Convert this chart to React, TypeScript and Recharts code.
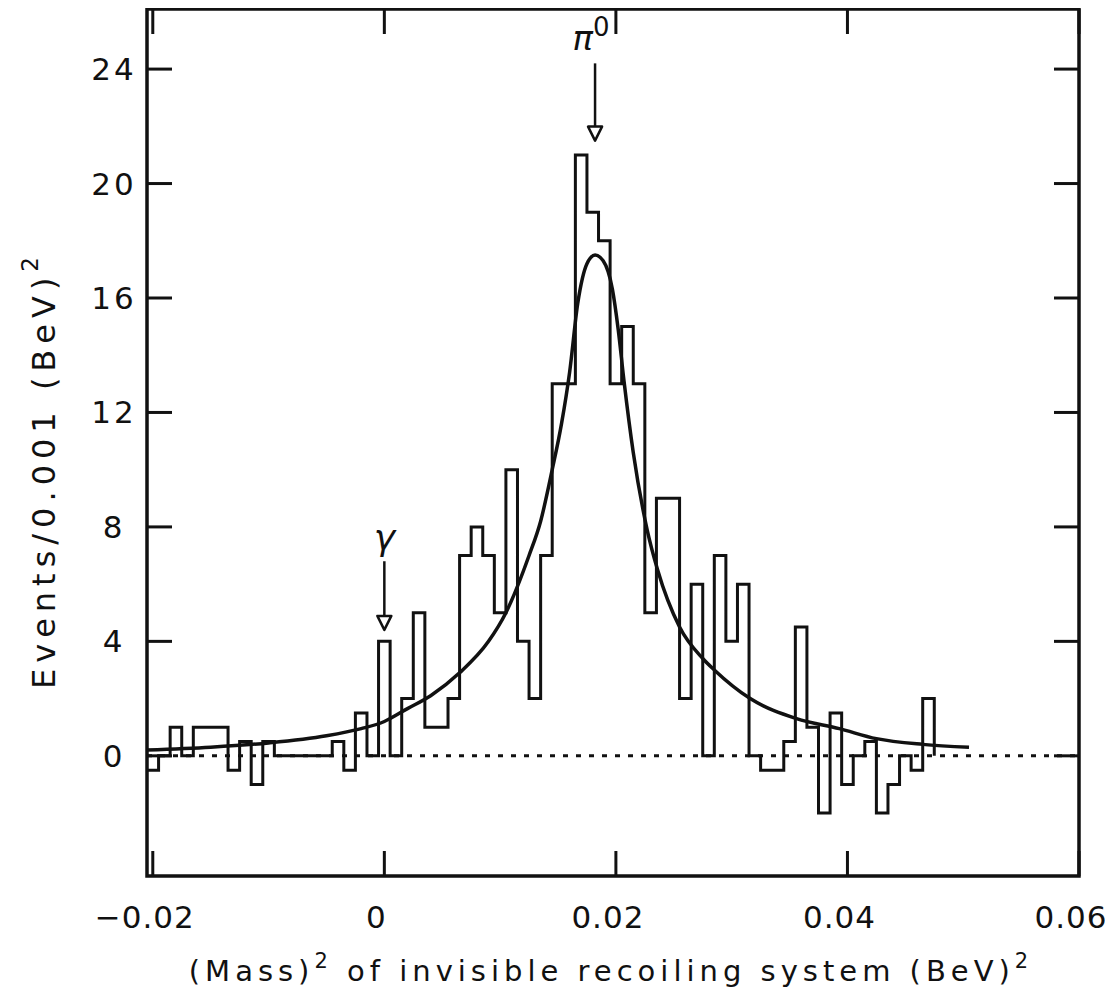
import React from "react";
import {
  LineChart,
  Line,
  XAxis,
  YAxis,
  ReferenceLine,
  ReferenceArea,
  ReferenceDot,
} from "recharts";

// histogram: events per 0.001 (BeV)^2, bins centred on multiples of 0.001
const BIN_FIRST = -0.02;
const BIN_WIDTH = 0.001;
const counts = [
  -0.5, 0, 1, 0, 1, 1, 1, -0.5, 0.5, -1, 0.5, 0, 0, 0, 0, 0, 0.5, -0.5, 1.5, 0,
  4, 0, 2, 5, 1, 1, 2, 7, 8, 7, 5, 10, 4, 2, 7, 13, 13, 21, 19, 18, 13, 15, 13,
  5, 9, 9, 2, 6, 0, 7, 4, 6, 0, -0.5, -0.5, 0.5, 4.5, 1, -2, 1.5, -1, 0, 0.5, -2,
  -1, 0, -0.5, 2,
];

// fitted curve
const fitX = [
  -0.0205, -0.015, -0.01, -0.005, -0.002, 0, 0.002, 0.004, 0.0065, 0.009, 0.0105,
  0.0125, 0.0135, 0.0145, 0.0153, 0.016, 0.0167, 0.0175, 0.0182, 0.0189, 0.0197,
  0.0202, 0.0207, 0.0215, 0.0227, 0.0236, 0.0255, 0.0275, 0.0285, 0.0316, 0.0356,
  0.0393, 0.0425, 0.0465, 0.0505,
];
const fitY = [
  0.2, 0.3, 0.45, 0.7, 0.95, 1.2, 1.65, 2.1, 2.9, 4.0, 5.0, 7.0, 8.2, 10.0, 11.6,
  13.4, 15.8, 17.2, 17.5, 17.3, 16.3, 14.9, 13.1, 10.6, 7.9, 6.5, 4.5, 3.4, 3.0,
  2.0, 1.3, 0.95, 0.6, 0.4, 0.3,
];

const xTicks = [-0.02, 0, 0.02, 0.04, 0.06];
const xTickLabels = ["\u22120.02", "0", "0.02", "0.04", "0.06"];
const yTicks = [0, 4, 8, 12, 16, 20, 24];

const X_DOMAIN: [number, number] = [-0.0205, 0.06];
const Y_DOMAIN: [number, number] = [-4.2, 26.1];

// markers
const gammaX = 0;
const gammaArrow = [6.8, 4.4];
const gammaLabelY = 7.6;
const pionX = 0.0182;
const pionArrow = [24.2, 21.5];
const pionLabelY = 25.1;

const W = 1105;
const H = 985;
const Y_AXIS_W = 139;
const X_AXIS_H = 117;
const MARGIN = { top: 1, right: 34, bottom: 0, left: 0 };
const PLOT_LEFT = MARGIN.left + Y_AXIS_W;
const PLOT_RIGHT = W - MARGIN.right;
const PLOT_TOP = MARGIN.top;
const PLOT_BOTTOM = H - X_AXIS_H - MARGIN.bottom;

const INK = "#111";
const FONT = "'DejaVu Sans', sans-serif";

const histData = counts
  .map((c, i) => ({ x: BIN_FIRST + (i - 0.5) * BIN_WIDTH, hist: c }))
  .concat([{ x: BIN_FIRST + (counts.length - 0.5) * BIN_WIDTH, hist: 0 }]);
const fitData = fitX.map((x, i) => ({ x, fit: fitY[i] }));

function YTick({ y, payload }: any) {
  return (
    <g>
      <line x1={PLOT_LEFT} x2={PLOT_LEFT + 25} y1={y} y2={y} stroke={INK} strokeWidth={3} />
      <line x1={PLOT_RIGHT - 25} x2={PLOT_RIGHT} y1={y} y2={y} stroke={INK} strokeWidth={3} />
      <text
        x={PLOT_LEFT - 33}
        y={y + 11}
        textAnchor="middle"
        fontFamily={FONT}
        fontSize={31}
        letterSpacing={3}
        fill={INK}
      >
        {payload.value}
      </text>
    </g>
  );
}

function XTick({ x, payload, index }: any) {
  return (
    <g>
      <line x1={x} x2={x} y1={PLOT_BOTTOM} y2={PLOT_BOTTOM - 25} stroke={INK} strokeWidth={3} />
      <line x1={x} x2={x} y1={PLOT_TOP} y2={PLOT_TOP + 25} stroke={INK} strokeWidth={3} />
      <text
        x={x - 8}
        y={PLOT_BOTTOM + 52}
        textAnchor="middle"
        fontFamily={FONT}
        fontSize={31}
        letterSpacing={1}
        fill={INK}
      >
        {xTickLabels[index] ?? payload.value}
      </text>
    </g>
  );
}

function XTitle() {
  return (
    <text
      x={603}
      y={H - 12}
      textAnchor="middle"
      fontFamily={FONT}
      fontSize={29}
      letterSpacing={5}
      fill={INK}
    >
      (Mass)
      <tspan dy={-13} fontSize={21}>2</tspan>
      <tspan dy={13}>{"  of  invisible  recoiling  system  (BeV)"}</tspan>
      <tspan dy={-13} fontSize={21}>2</tspan>
    </text>
  );
}

function YTitle() {
  const cx = 36;
  const cy = 462;
  return (
    <text
      x={cx}
      y={cy}
      transform={`rotate(-90 ${cx} ${cy})`}
      textAnchor="middle"
      dominantBaseline="central"
      fontFamily={FONT}
      fontSize={32}
      letterSpacing={6}
      fill={INK}
    >
      Events/0.001 (BeV)
      <tspan dy={-14} fontSize={23}>2</tspan>
    </text>
  );
}

function ArrowHead({ cx, cy }: any) {
  return (
    <polygon
      points={`${cx - 7},${cy - 14} ${cx + 7},${cy - 14} ${cx},${cy}`}
      fill="#fff"
      stroke={INK}
      strokeWidth={2.5}
      strokeLinejoin="round"
    />
  );
}

function GammaLabel({ cx, cy }: any) {
  return (
    <text x={cx} y={cy + 12} textAnchor="middle" fontFamily={FONT} fontSize={36} fontStyle="italic" fill={INK}>
      γ
    </text>
  );
}

function PionLabel({ cx, cy }: any) {
  return (
    <text x={cx - 4} y={cy + 12} textAnchor="middle" fontFamily={FONT} fontSize={34} fontStyle="italic" fill={INK}>
      π<tspan dy={-14} fontSize={26} fontStyle="normal">0</tspan>
    </text>
  );
}

export default function App() {
  return (
    <div style={{ width: W, height: H, background: "#fff" }}>
      <LineChart width={W} height={H} margin={MARGIN}>
        <XAxis
          type="number"
          dataKey="x"
          domain={X_DOMAIN}
          ticks={xTicks}
          allowDataOverflow
          height={X_AXIS_H}
          axisLine={false}
          tickLine={false}
          tick={<XTick />}
          label={<XTitle />}
          interval={0}
        />
        <YAxis
          type="number"
          domain={Y_DOMAIN}
          ticks={yTicks}
          allowDataOverflow
          width={Y_AXIS_W}
          axisLine={false}
          tickLine={false}
          tick={<YTick />}
          label={<YTitle />}
          interval={0}
        />
        <ReferenceLine y={0} stroke={INK} strokeWidth={3} strokeDasharray="5 8" ifOverflow="visible" />
        <Line
          data={histData}
          dataKey="hist"
          type="stepAfter"
          stroke={INK}
          strokeWidth={3}
          strokeLinejoin="miter"
          dot={false}
          activeDot={false}
          isAnimationActive={false}
        />
        <Line
          data={fitData}
          dataKey="fit"
          type="monotone"
          stroke={INK}
          strokeWidth={3.5}
          dot={false}
          activeDot={false}
          isAnimationActive={false}
        />
        <ReferenceLine
          segment={[{ x: gammaX, y: gammaArrow[0] }, { x: gammaX, y: gammaArrow[1] + 0.45 }]}
          stroke={INK}
          strokeWidth={2.5}
        />
        <ReferenceDot x={gammaX} y={gammaArrow[1]} r={0} shape={<ArrowHead />} />
        <ReferenceDot x={gammaX} y={gammaLabelY} r={0} shape={<GammaLabel />} />
        <ReferenceLine
          segment={[{ x: pionX, y: pionArrow[0] }, { x: pionX, y: pionArrow[1] + 0.45 }]}
          stroke={INK}
          strokeWidth={2.5}
        />
        <ReferenceDot x={pionX} y={pionArrow[1]} r={0} shape={<ArrowHead />} />
        <ReferenceDot x={pionX} y={pionLabelY} r={0} shape={<PionLabel />} />
        <ReferenceArea
          x1={X_DOMAIN[0]}
          x2={X_DOMAIN[1]}
          y1={Y_DOMAIN[0]}
          y2={Y_DOMAIN[1]}
          fill="none"
          stroke={INK}
          strokeWidth={3.5}
          ifOverflow="visible"
        />
      </LineChart>
    </div>
  );
}
